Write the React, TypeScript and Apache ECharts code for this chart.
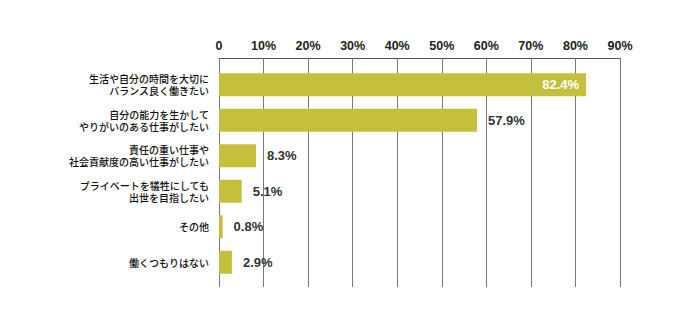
import React, { useEffect, useRef } from "react";
import * as echarts from "echarts";

const categories = [
  "生活や自分の時間を大切に\nバランス良く働きたい",
  "自分の能力を生かして\nやりがいのある仕事がしたい",
  "責任の重い仕事や\n社会貢献度の高い仕事がしたい",
  "プライベートを犠牲にしても\n出世を目指したい",
  "その他",
  "働くつもりはない",
];
const values = [82.4, 57.9, 8.3, 5.1, 0.8, 2.9];
const insideIndex = [0];

const BAR = "#c4c03b";
const NUM_FONT = "'Liberation Sans', Arial, Helvetica, sans-serif";
const JP_FONT = "'Noto Sans CJK JP', 'Noto Sans', sans-serif";

export default function App() {
  const ref = useRef<HTMLDivElement>(null);
  useEffect(() => {
    if (!ref.current) return;
    const chart = echarts.init(ref.current, undefined, { renderer: "svg" });
    chart.setOption({
      animation: false,
      backgroundColor: "#ffffff",
      grid: { left: 219, right: 80, top: 67, bottom: 50, containLabel: false },
      xAxis: {
        type: "value",
        position: "top",
        offset: 9,
        min: 0,
        max: 90,
        interval: 10,
        axisLine: { show: true, lineStyle: { color: "#555", width: 1 } },
        axisTick: { show: true, inside: true, length: 229, lineStyle: { color: "#777", width: 1 } },
        splitLine: { show: false },
        axisLabel: {
          margin: 6,
          fontFamily: NUM_FONT,
          fontWeight: "bold",
          fontSize: 12.5,
          color: "#222",
          formatter: (v: number) => (v === 0 ? "0" : v + "%"),
        },
      },
      yAxis: {
        type: "category",
        inverse: true,
        data: categories,
        axisLine: { show: false },
        axisTick: { show: false },
        axisLabel: {
          margin: 10,
          fontFamily: JP_FONT,
          fontSize: 10,
          fontWeight: 500,
          lineHeight: 12,
          color: "#111",
          align: "right",
        },
      },
      series: [
        {
          type: "bar",
          barWidth: 23,
          data: values.map((v, i) => ({
            value: v,
            label: insideIndex.includes(i)
              ? { position: "insideRight", distance: 7, color: "#ffffff" }
              : { position: "right", distance: 11, color: "#333" },
          })),
          itemStyle: { color: BAR },
          label: {
            show: true,
            fontFamily: NUM_FONT,
            fontWeight: "bold",
            fontSize: 13,
            formatter: (p: any) => p.value.toFixed(1) + "%",
          },
        },
      ],
    });
    return () => chart.dispose();
  }, []);
  return (
    <div
      ref={ref}
      style={{ position: "fixed", left: 0, top: 0, width: 700, height: 330 }}
    />
  );
}
